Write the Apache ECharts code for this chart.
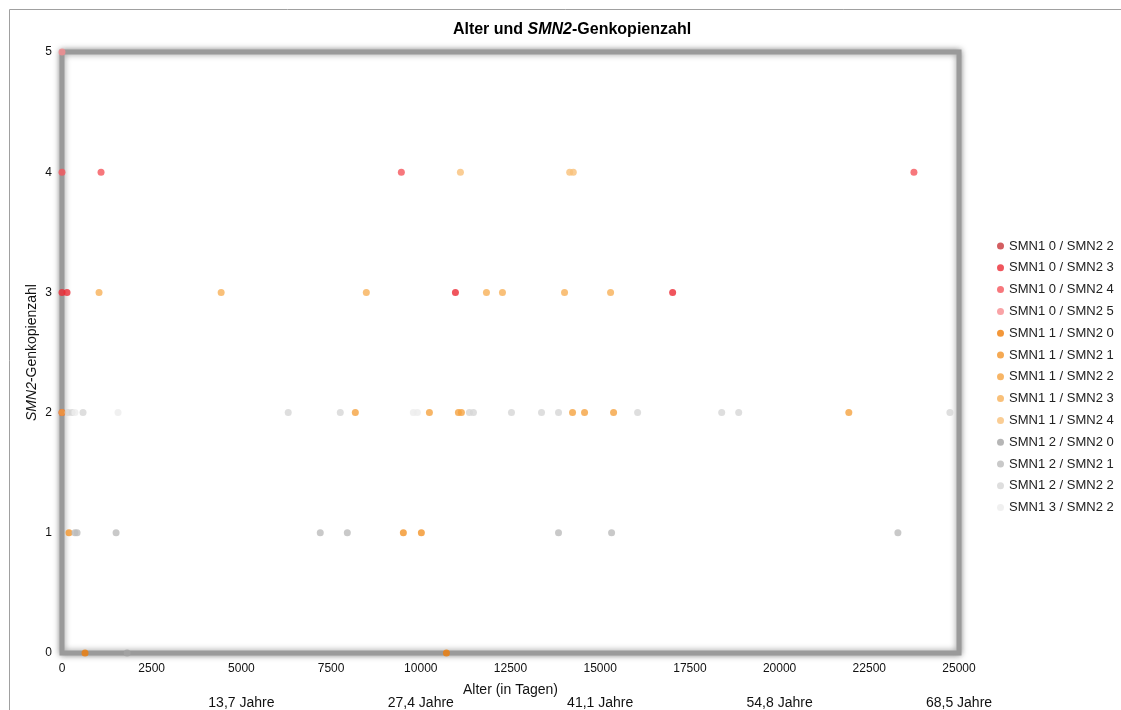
<!DOCTYPE html>
<html>
<head>
<meta charset="utf-8">
<script src="https://cdn.jsdelivr.net/npm/echarts@6/dist/echarts.min.js"></script>
<style>
  html, body { margin: 0; padding: 0; background: #fff; }
  #main { width: 1121px; height: 710px; }
</style>
</head>
<body>
<div id="main"></div>
<script>
// Legend names
var seriesNames = [
    'SMN1 0 / SMN2 2', 'SMN1 0 / SMN2 3', 'SMN1 0 / SMN2 4', 'SMN1 0 / SMN2 5',
    'SMN1 1 / SMN2 0', 'SMN1 1 / SMN2 1', 'SMN1 1 / SMN2 2', 'SMN1 1 / SMN2 3', 'SMN1 1 / SMN2 4',
    'SMN1 2 / SMN2 0', 'SMN1 2 / SMN2 1', 'SMN1 2 / SMN2 2', 'SMN1 3 / SMN2 2'
];
var seriesColors = [
    '#c8363a', '#ec2a34', '#f5555b', '#f78c90',
    '#f07d08', '#f39428', '#f5a240', '#f7b058', '#f9c079',
    '#a4a4a4', '#bcbcbc', '#d6d6d6', '#ececec'
];

// [Alter in Tagen, SMN2-Kopien]
var s0_2 = [[0, 2]];
var s0_3 = [[0, 3], [140, 3], [10965, 3], [17019, 3]];
var s0_4 = [[0, 4], [1088, 4], [9458, 4], [23744, 4]];
var s0_5 = [[0, 5]];
var s1_0 = [[642, 0], [10714, 0]];
var s1_1 = [[195, 1], [9514, 1], [10016, 1]];
var s1_2 = [[0, 2], [8175, 2], [10240, 2], [11048, 2], [11132, 2], [14229, 2], [14564, 2], [15373, 2], [21929, 2]];
var s1_3 = [[1032, 3], [4436, 3], [8482, 3], [11830, 3], [12276, 3], [14006, 3], [15289, 3]];
var s1_4 = [[11104, 4], [14150, 4], [14250, 4]];
var s2_0 = [[1814, 0]];
var s2_1 = [[360, 1], [420, 1], [1507, 1], [7198, 1], [7952, 1], [13838, 1], [15317, 1], [23297, 1]];
var s2_2 = [[170, 2], [280, 2], [586, 2], [6305, 2], [7756, 2], [11355, 2], [11467, 2], [12527, 2], [13364, 2], [13838, 2], [16043, 2], [18386, 2], [18860, 2], [24747, 2]];
var s3_2 = [[360, 2], [1562, 2], [9793, 2], [9905, 2]];

var seriesData = [s0_2, s0_3, s0_4, s0_5, s1_0, s1_1, s1_2, s1_3, s1_4, s2_0, s2_1, s2_2, s3_2];

// Jahre-Beschriftung unter der x-Achse
var yearTicks = [5000, 10000, 15000, 20000, 25000];
var yearLabels = ['13,7 Jahre', '27,4 Jahre', '41,1 Jahre', '54,8 Jahre', '68,5 Jahre'];

var chart = echarts.init(document.getElementById('main'));

var aoSer = [];
for (var i = 0; i < seriesNames.length; i++) {
    aoSer.push({
        name: seriesNames[i],
        type: 'scatter',
        symbol: 'circle',
        symbolSize: 7,
        itemStyle: { color: seriesColors[i] },
        data: seriesData[i]
    });
}

var cFont = '"Liberation Sans", Arial, sans-serif';

var oOpt = {
    backgroundColor: '#fff',
    animation: false,
    title: {
        text: '{b|Alter und }{bi|SMN2}{b|-Genkopienzahl}',
        left: 567,
        top: 17,
        textAlign: 'center',
        textStyle: {
            rich: {
                b: { fontFamily: cFont, fontSize: 16, fontWeight: 'bold', color: '#000' },
                bi: { fontFamily: cFont, fontSize: 16, fontWeight: 'bold', fontStyle: 'italic', color: '#000' }
            }
        }
    },
    legend: {
        orient: 'vertical',
        left: 992,
        top: 234,
        itemWidth: 7,
        itemHeight: 7,
        itemGap: 7.8,
        icon: 'circle',
        textStyle: { fontFamily: cFont, fontSize: 13, color: '#222', lineHeight: 14 },
        data: seriesNames
    },
    grid: {
        left: 62,
        right: 162,
        top: 52,
        bottom: 57,
        outerBoundsMode: 'none',
        containLabel: false,
        show: true,
        backgroundColor: '#fff',
        borderColor: '#9a9a9a',
        borderWidth: 5,
        shadowBlur: 6,
        shadowColor: 'rgba(0,0,0,0.4)'
    },
    xAxis: [{
        type: 'value',
        min: 0,
        max: 25000,
        interval: 2500,
        name: 'Alter (in Tagen)',
        nameLocation: 'middle',
        nameGap: 30,
        nameTextStyle: { fontFamily: cFont, fontSize: 14, color: '#111' },
        axisLine: { show: false },
        axisTick: { show: false },
        splitLine: { show: false },
        axisLabel: {
            fontFamily: cFont, fontSize: 12, color: '#111', margin: 10,
            formatter: function (v) { return String(v); }
        }
    }, {
        type: 'value',
        position: 'bottom',
        offset: 35,
        min: 0,
        max: 25000,
        interval: 5000,
        axisLine: { show: false },
        axisTick: { show: false },
        splitLine: { show: false },
        axisLabel: {
            fontFamily: cFont, fontSize: 14, color: '#111',
            formatter: function (v) {
                var k = yearTicks.indexOf(v);
                return k >= 0 ? yearLabels[k] : '';
            }
        }
    }],
    yAxis: {
        type: 'value',
        min: 0,
        max: 5,
        interval: 1,
        name: '{i|SMN2}{n|-Genkopienzahl}',
        nameLocation: 'middle',
        nameGap: 23,
        nameMoveOverlap: false,
        nameRotate: 90,
        nameTextStyle: {
            rich: {
                i: { fontFamily: cFont, fontSize: 14, fontStyle: 'italic', color: '#111' },
                n: { fontFamily: cFont, fontSize: 14, color: '#111' }
            }
        },
        axisLine: { show: false },
        axisTick: { show: false },
        splitLine: { show: false },
        axisLabel: { fontFamily: cFont, fontSize: 12, color: '#111', margin: 10 }
    },
    graphic: [{
        type: 'rect',
        silent: true,
        shape: { x: 9.5, y: 9.5, width: 1200, height: 800 },
        style: { fill: 'none', stroke: '#a0a0a0', lineWidth: 1 },
        z: -1
    }],
    series: aoSer
};

chart.setOption(oOpt);
</script>
</body>
</html>
